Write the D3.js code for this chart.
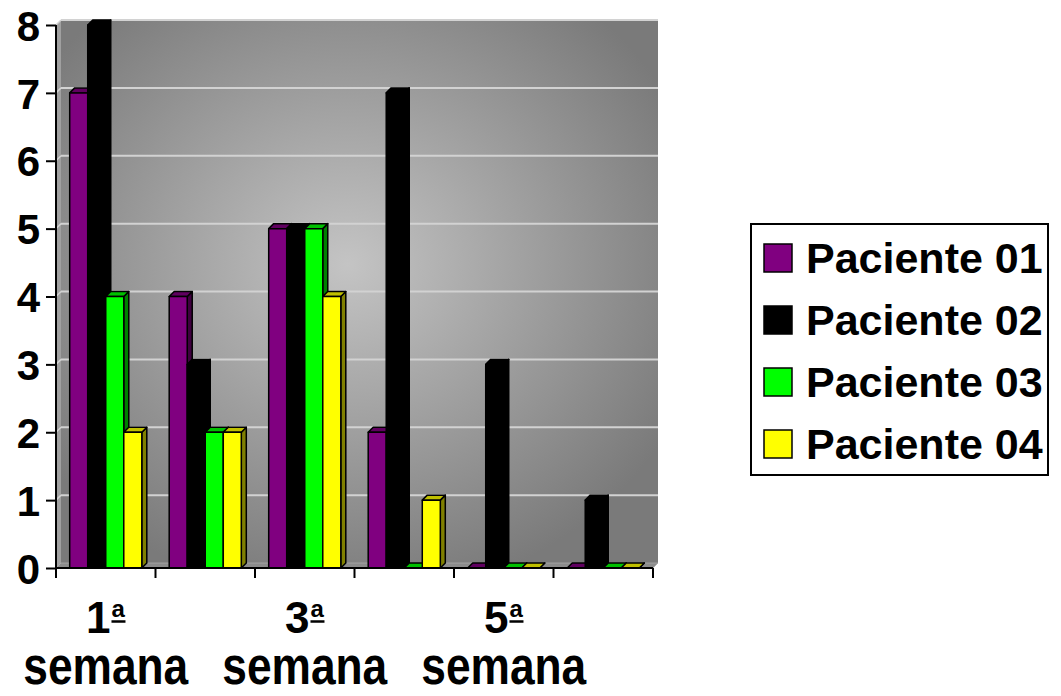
<!DOCTYPE html>
<html>
<head>
<meta charset="utf-8">
<script src="https://cdn.jsdelivr.net/npm/d3@7"></script>
<style>
  body { margin: 0; background: #fff; }
  text { font-family: "Liberation Sans", Arial, sans-serif; font-weight: bold; }
</style>
</head>
<body>
<div id="chart"></div>
<script>
// data
var weeks = ["1ª semana", "2ª semana", "3ª semana", "4ª semana", "5ª semana", "6ª semana"];
var seriesNames = ["Paciente 01", "Paciente 02", "Paciente 03", "Paciente 04"];
var paciente01 = [7, 4, 5, 2, 0, 0];
var paciente02 = [8, 3, 5, 7, 3, 1];
var paciente03 = [4, 2, 5, 0, 0, 0];
var paciente04 = [2, 2, 4, 1, 0, 0];
var yTicks = [0, 1, 2, 3, 4, 5, 6, 7, 8];

var allSeries = [paciente01, paciente02, paciente03, paciente04];

// front, top and side colours for each series
var colors = [
  { front: "#800080", top: "#600060", side: "#400040" },
  { front: "#000000", top: "#000000", side: "#000000" },
  { front: "#00ff00", top: "#00c000", side: "#008000" },
  { front: "#ffff00", top: "#c0c000", side: "#808000" },
];

var width = 1061,
  height = 696,
  depth = 5;

var svg = d3
  .select("#chart")
  .append("svg")
  .attr("width", width)
  .attr("height", height);

// scales
var x0 = d3.scaleBand().domain(weeks).range([56, 653]);
var x1 = d3
  .scaleBand()
  .domain(seriesNames)
  .range([0, x0.bandwidth()])
  .paddingInner(0)
  .paddingOuter(0.76);
var y = d3.scaleLinear().domain([0, 8]).range([568, 25]);

// back wall gradient
var defs = svg.append("defs");
var grad = defs
  .append("radialGradient")
  .attr("id", "wall")
  .attr("cx", "48%")
  .attr("cy", "45%")
  .attr("r", "62%");
grad.append("stop").attr("offset", "0%").attr("stop-color", "#c4c4c4");
grad.append("stop").attr("offset", "100%").attr("stop-color", "#7a7a7a");

var x0min = x0.range()[0],
  x0max = x0.range()[1],
  yTop = y(8),
  yBase = y(0);

// walls
svg
  .append("rect")
  .attr("x", x0min + depth)
  .attr("y", yTop - depth)
  .attr("width", x0max - x0min)
  .attr("height", yBase - yTop)
  .attr("fill", "url(#wall)");

svg
  .append("polygon")
  .attr("points", [
    [x0min, yTop], [x0min + depth, yTop - depth],
    [x0min + depth, yBase - depth], [x0min, yBase],
  ].join(" "))
  .attr("fill", "#a0a0a0");

svg
  .append("polygon")
  .attr("points", [
    [x0min, yBase], [x0min + depth, yBase - depth],
    [x0max + depth, yBase - depth], [x0max, yBase],
  ].join(" "))
  .attr("fill", "#8c8c8c")
  .attr("stroke", "#aaa")
  .attr("stroke-width", 0.8);

// gridlines on back and left walls
yTicks.slice(1).forEach(function (v) {
  svg
    .append("line")
    .attr("x1", x0min + depth)
    .attr("x2", x0max + depth)
    .attr("y1", y(v) - depth)
    .attr("y2", y(v) - depth)
    .attr("stroke", "#d2d2d2")
    .attr("stroke-width", 2);
  svg
    .append("line")
    .attr("x1", x0min)
    .attr("x2", x0min + depth)
    .attr("y1", y(v))
    .attr("y2", y(v) - depth)
    .attr("stroke", "#d2d2d2")
    .attr("stroke-width", 1.5);
});

// 3d bars, drawn week by week so each bar covers the side of the one before
weeks.forEach(function (wk, i) {
  seriesNames.forEach(function (name, s) {
    var v = allSeries[s][i];
    var bx = x0(wk) + x1(name),
      bw = x1.bandwidth(),
      by = y(v),
      c = colors[s];
    var g = svg.append("g").attr("stroke", "#000").attr("stroke-width", 1.5).attr("stroke-linejoin", "round");
    g.append("polygon")
      .attr("points", [
        [bx + bw, by], [bx + bw + depth, by - depth],
        [bx + bw + depth, yBase - depth], [bx + bw, yBase],
      ].join(" "))
      .attr("fill", c.side);
    g.append("polygon")
      .attr("points", [
        [bx, by], [bx + depth, by - depth],
        [bx + bw + depth, by - depth], [bx + bw, by],
      ].join(" "))
      .attr("fill", c.top);
    if (v > 0) {
      g.append("rect")
        .attr("x", bx)
        .attr("y", by)
        .attr("width", bw)
        .attr("height", yBase - by)
        .attr("fill", c.front);
    }
  });
});

// y axis
var yAxis = svg
  .append("g")
  .attr("transform", "translate(" + x0min + ",0)")
  .call(d3.axisLeft(y).tickValues(yTicks).tickSize(10).tickPadding(6).tickFormat(d3.format("d")));
yAxis.selectAll("path, line").attr("stroke", "#000").attr("stroke-width", 2);
yAxis.select(".domain").attr("d", "M0," + yTop + "V" + yBase);
yAxis.selectAll("text").style("font-size", "42px").attr("fill", "#000").attr("dy", "0.36em");

// x axis: ticks on category boundaries
var xAxis = svg.append("g");
xAxis
  .append("line")
  .attr("x1", x0min)
  .attr("x2", x0max)
  .attr("y1", yBase)
  .attr("y2", yBase)
  .attr("stroke", "#000")
  .attr("stroke-width", 2);
xAxis
  .selectAll(".tick")
  .data(weeks.concat(["end"]))
  .enter()
  .append("line")
  .attr("x1", function (d, i) { return x0min + i * x0.step(); })
  .attr("x2", function (d, i) { return x0min + i * x0.step(); })
  .attr("y1", yBase)
  .attr("y2", yBase + 10)
  .attr("stroke", "#000")
  .attr("stroke-width", 2);

// only every other label fits; each label is one text with three tspans
var shown = weeks.filter(function (d, i) { return i % 2 === 0; });
var numW = 0.556 * 44,
  supW = 15,
  wordW = 165;

shown.forEach(function (d) {
  var cx = x0(d) + x0.bandwidth() / 2;
  var left = cx - (numW + supW) / 2;
  var parts = d.split(" ");
  var t = xAxis.append("text").attr("fill", "#000");
  t.append("tspan")
    .attr("x", left)
    .attr("y", 633)
    .style("font-size", "44px")
    .text(parts[0].replace("ª", ""));
  t.append("tspan")
    .attr("dx", 1)
    .attr("dy", -16)
    .style("font-size", "24px")
    .text("a");
  t.append("tspan")
    .attr("x", cx - wordW / 2)
    .attr("y", 684)
    .style("font-size", "51px")
    .attr("textLength", wordW)
    .attr("lengthAdjust", "spacingAndGlyphs")
    .text(parts[1]);
  // underline of the ordinal indicator
  xAxis
    .append("line")
    .attr("x1", left + numW + 1)
    .attr("x2", left + numW + 15)
    .attr("y1", 621.5)
    .attr("y2", 621.5)
    .attr("stroke", "#000")
    .attr("stroke-width", 2.5);
});

// legend
var legend = svg.append("g").attr("transform", "translate(751,224)");
legend
  .append("rect")
  .attr("width", 297)
  .attr("height", 251)
  .attr("fill", "#fff")
  .attr("stroke", "#000")
  .attr("stroke-width", 2);
var items = legend
  .selectAll(".item")
  .data(seriesNames)
  .enter()
  .append("g")
  .attr("class", "item")
  .attr("transform", function (d, i) { return "translate(0," + (34 + i * 62) + ")"; });
items
  .append("rect")
  .attr("x", 13)
  .attr("y", -14)
  .attr("width", 28)
  .attr("height", 28)
  .attr("fill", function (d, i) { return colors[i].front; })
  .attr("stroke", "#000")
  .attr("stroke-width", 1.5);
items
  .append("text")
  .attr("x", 55)
  .attr("y", 15)
  .style("font-size", "43px")
  .attr("fill", "#000")
  .text(function (d) { return d; });
</script>
</body>
</html>
